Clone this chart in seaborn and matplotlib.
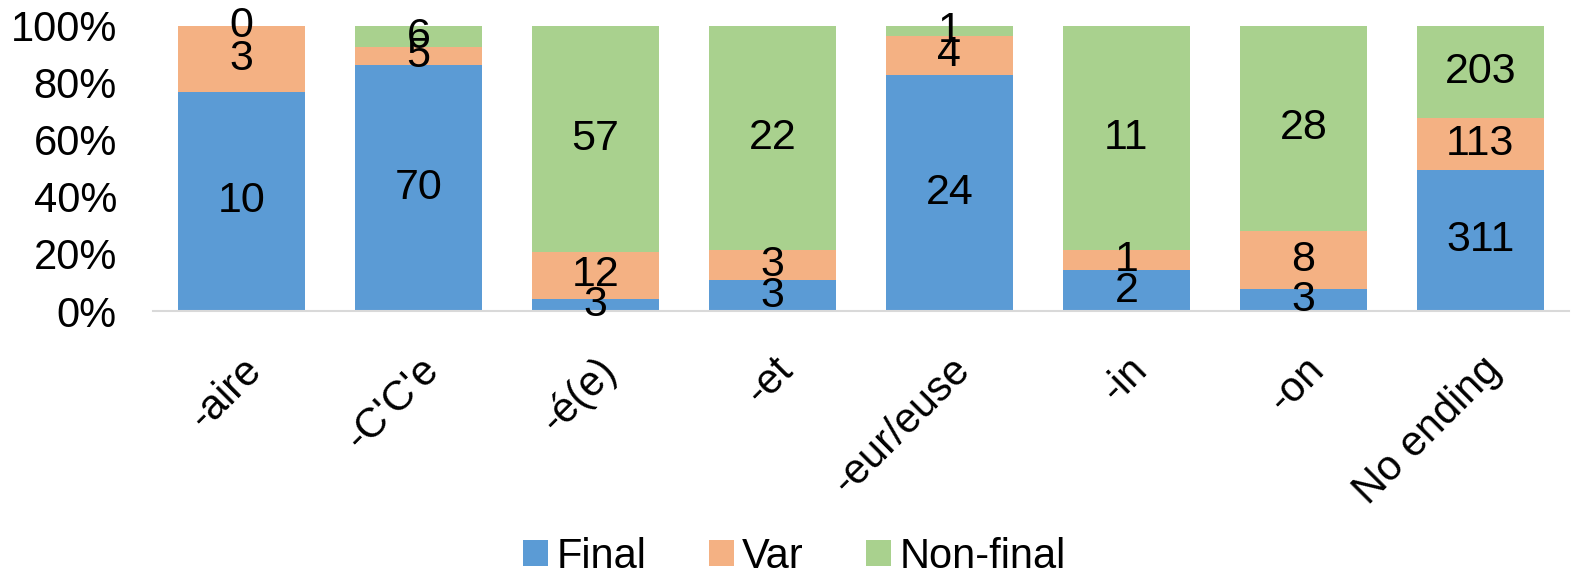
import numpy as np
import pandas as pd
import matplotlib
matplotlib.use("Agg")
import matplotlib.pyplot as plt
import seaborn as sns

# counts per ending
endings = ["-aire", "-C'C'e", "-é(e)", "-et", "-eur/euse", "-in", "-on", "No ending"]
final = [10, 70, 3, 3, 24, 2, 3, 311]
var = [3, 5, 12, 3, 4, 1, 8, 113]
non_final = [0, 6, 57, 22, 1, 11, 28, 203]

series = ["Final", "Var", "Non-final"]
colors = {"Final": "#5B9BD5", "Var": "#F4B183", "Non-final": "#A9D18E"}

df = pd.DataFrame({"ending": endings, "Final": final, "Var": var, "Non-final": non_final})
total = df[series].sum(axis=1)
pct = df[series].div(total, axis=0) * 100
cum = pct.cumsum(axis=1)
cum["ending"] = df["ending"]

sns.set_style("white")
plt.rcParams["font.family"] = ["Liberation Sans", "DejaVu Sans"]
plt.rcParams["text.color"] = "black"
plt.rcParams["xtick.color"] = "black"
plt.rcParams["ytick.color"] = "black"

fig = plt.figure(figsize=(15.89, 5.77), dpi=100)
ax = fig.add_axes([0.0963, 0.461, 0.891, 0.494])

# stacked look: draw cumulative heights, tallest first
for s in reversed(series):
    sns.barplot(data=cum, x="ending", y=s, color=colors[s], width=0.72,
                saturation=1, ax=ax, label=s, linewidth=0, legend=False)

# count labels centred in each segment
for i in range(len(df)):
    bottom = 0
    for s in series:
        h = pct.loc[i, s]
        ax.text(i, bottom + h / 2, str(df.loc[i, s]), ha="center", va="center",
                fontsize=31, color="black")
        bottom += h

ax.set_ylim(0, 100)
ax.set_xlim(-0.5, len(df) - 0.5)
ax.set_yticks(np.arange(0, 101, 20))
ax.set_yticklabels([f"{v}%" for v in range(0, 101, 20)], fontsize=30)
ax.set_xticks(range(len(df)))
ax.set_xticklabels(endings, fontsize=30, rotation=45, ha="right", rotation_mode="anchor")
ax.tick_params(axis="both", length=0)
ax.tick_params(axis="y", pad=26)
ax.tick_params(axis="x", pad=28)
ax.set_xlabel("")
ax.set_ylabel("")
for sp in ["top", "right", "left"]:
    ax.spines[sp].set_visible(False)
ax.spines["bottom"].set_color("#D9D9D9")
ax.spines["bottom"].set_linewidth(1.5)

handles, labels = ax.get_legend_handles_labels()
order = [labels.index(s) for s in series]
fig.legend([handles[k] for k in order], series, loc="center", bbox_to_anchor=(0.5, 0.035),
           ncol=3, frameon=False, fontsize=30, handlelength=0.6, handleheight=0.6,
           handletextpad=0.2, columnspacing=1.5)

fig.savefig("out.png", dpi=100)
